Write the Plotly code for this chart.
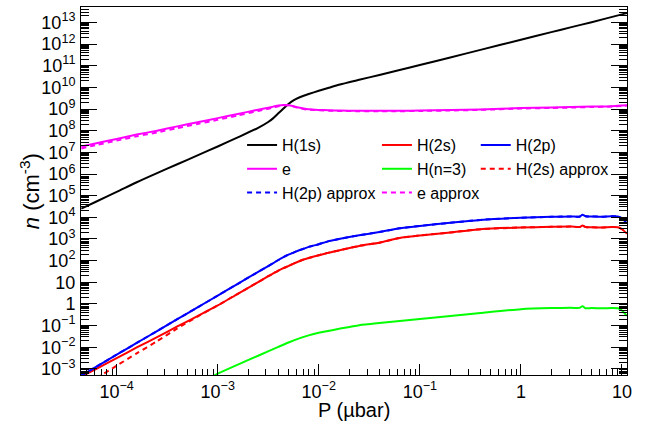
import plotly.graph_objects as go

# ---------------- data ----------------
P_h1s = [4.47e-5, 6.31e-5, 1e-4, 1.58e-4, 2.51e-4, 3.98e-4, 6.31e-4, 1e-3, 1.58e-3, 2.51e-3, 3.16e-3,
         3.55e-3, 3.98e-3, 4.47e-3, 5.01e-3, 5.62e-3, 6.31e-3, 7.08e-3, 7.94e-3, 1e-2, 1.26e-2, 1.58e-2,
         2.51e-2, 3.98e-2, 6.31e-2, 0.1, 0.2, 0.398, 1.0, 2.0, 3.16, 5.01, 10.0, 11.2]
n_h1s = [2.51e4, 5.37e4, 1.48e5, 4.17e5, 1.10e6, 2.82e6, 7.24e6, 1.86e7, 4.90e7, 1.35e8, 2.51e8,
         3.80e8, 6.31e8, 1.05e9, 1.70e9, 2.51e9, 3.31e9, 4.07e9, 4.90e9, 6.92e9, 9.55e9, 1.32e10,
         2.24e10, 3.72e10, 6.31e10, 1.07e11, 2.40e11, 5.37e11, 1.58e12, 3.55e12, 6.03e12, 1.02e13, 2.34e13, 2.69e13]

P_e = [4.47e-5, 6.31e-5, 1e-4, 1.58e-4, 2.51e-4, 3.98e-4, 6.31e-4, 1e-3, 1.58e-3, 2.51e-3, 3.16e-3,
       3.55e-3, 3.98e-3, 4.47e-3, 5.01e-3, 5.62e-3, 6.31e-3, 7.08e-3, 7.94e-3, 1e-2, 1.26e-2, 1.58e-2,
       2.51e-2, 3.98e-2, 6.31e-2, 0.1, 0.2, 0.398, 1.0, 2.0, 3.16, 5.01, 7.94, 10.0, 11.2]
n_e = [1.86e7, 2.63e7, 4.17e7, 6.61e7, 1.0e8, 1.58e8, 2.45e8, 3.80e8, 5.89e8, 9.33e8, 1.15e9,
       1.29e9, 1.45e9, 1.55e9, 1.51e9, 1.35e9, 1.17e9, 1.05e9, 9.77e8, 9.12e8, 8.71e8, 8.51e8,
       8.32e8, 8.32e8, 8.32e8, 8.51e8, 8.91e8, 9.55e8, 1.10e9, 1.17e9, 1.23e9, 1.29e9, 1.35e9, 1.45e9, 1.51e9]
n_e_approx = [1.51e7, 2.19e7, 3.47e7, 5.50e7, 8.32e7, 1.32e8, 2.04e8, 3.16e8, 5.01e8, 8.13e8, 1.02e9,
              1.17e9, 1.35e9, 1.48e9, 1.48e9, 1.32e9, 1.12e9, 1.0e9, 9.33e8, 8.71e8, 8.32e8, 8.13e8,
              7.94e8, 7.94e8, 7.94e8, 8.13e8, 8.51e8, 9.12e8, 1.05e9, 1.12e9, 1.17e9, 1.23e9, 1.29e9, 1.38e9, 1.45e9]

P_n2 = [4.47e-5, 6.31e-5, 1e-4, 1.58e-4, 2.51e-4, 3.98e-4, 6.31e-4, 1e-3, 1.58e-3, 2.51e-3, 3.16e-3,
        3.55e-3, 3.98e-3, 4.47e-3, 5.01e-3, 5.62e-3, 6.31e-3, 7.08e-3, 7.94e-3, 1e-2, 1.26e-2, 1.58e-2,
        2.51e-2, 3.98e-2, 6.31e-2, 0.1, 0.2, 0.398, 1.0, 2.0, 3.16, 3.8, 4.07, 4.37, 5.01, 6.31, 7.94,
        9.12, 10.0, 11.2]
n_2p = [5.01e-4, 1.29e-3, 4.57e-3, 1.58e-2, 5.62e-2, 0.2, 0.69, 2.45, 8.51, 30.2, 56.2,
        77.6, 107, 145, 188, 235, 295, 355, 430, 575, 794, 1000,
        1480, 2090, 3090, 3980, 5620, 7590, 9550, 1.05e4, 1.10e4, 1.07e4, 1.32e4, 1.12e4, 1.10e4, 1.07e4, 1.12e4,
        1.10e4, 8910, 5250]
n_2s = [4.47e-4, 1.02e-3, 3.16e-3, 9.77e-3, 2.95e-2, 9.12e-2, 0.275, 0.851, 2.95, 10.2, 19.1,
        25.7, 34.7, 45.0, 56.2, 72.4, 91.2, 112, 132, 178, 234, 295,
        479, 676, 1120, 1450, 2000, 2820, 3390, 3630, 3720, 3550, 4170, 3550, 3470, 3390, 3550,
        3470, 2820, 1780]
n_2s_approx = [1.41e-4, 3.80e-4, 1.41e-3, 5.25e-3, 1.91e-2, 7.41e-2, 0.263, 0.851, 2.95, 10.2, 19.1,
               25.7, 34.7, 45.0, 56.2, 72.4, 91.2, 112, 132, 178, 234, 295,
               479, 676, 1120, 1450, 2000, 2820, 3390, 3630, 3720, 3550, 4170, 3550, 3470, 3390, 3550,
               3470, 2820, 1780]
n_2p_approx = n_2p

P_n3 = [7.94e-4, 1e-3, 1.58e-3, 2.51e-3, 3.98e-3, 5.01e-3, 6.31e-3, 7.94e-3, 1e-2, 1.58e-2, 2.51e-2,
        3.98e-2, 6.31e-2, 0.1, 0.2, 0.398, 1.0, 2.0, 3.16, 3.8, 4.07, 4.37, 5.01, 6.31, 7.94, 9.12, 10.0, 11.2]
n_n3 = [3.55e-4, 6.03e-4, 1.58e-3, 4.07e-3, 1.05e-2, 1.66e-2, 2.51e-2, 3.55e-2, 4.68e-2, 7.08e-2, 0.105,
        0.132, 0.162, 0.2, 0.275, 0.38, 0.575, 0.646, 0.661, 0.661, 0.794, 0.631, 0.646, 0.631, 0.646, 0.631, 0.501, 0.282]

x_tickvals = [1e-4, 1e-3, 1e-2, 1e-1, 1, 10]
x_ticktext = ["10<sup>\u22124</sup>", "10<sup>\u22123</sup>", "10<sup>\u22122</sup>", "10<sup>\u22121</sup>", "1", "10"]
y_tickvals = [10.0 ** k for k in range(-3, 14)]
y_ticktext = ["10<sup>\u22123</sup>", "10<sup>\u22122</sup>", "10<sup>\u22121</sup>", "1", "10"] + \
             ["10<sup>%d</sup>" % k for k in range(2, 14)]
x_title = "P (\u00b5bar)"
y_title = "<i>n</i> (cm<sup>-3</sup>)"

# ---------------- figure ----------------
FONT = "Liberation Sans, Arial, sans-serif"
DASH = "5px,4px"
fig = go.Figure()

def add(x, y, name, color, dash, legend):
    fig.add_trace(go.Scatter(
        x=x, y=y, name=name, mode="lines", legend=legend,
        line=dict(color=color, width=2, dash=dash, shape="spline", smoothing=0.6),
    ))

add(P_h1s, n_h1s, "H(1s)", "#000000", "solid", "legend")
add(P_e, n_e, "e", "#ff00ff", "solid", "legend")
add(P_n2, n_2s, "H(2s)", "#ff0000", "solid", "legend2")
add(P_n3, n_n3, "H(n=3)", "#00ff00", "solid", "legend2")
add(P_n2, n_2p, "H(2p)", "#0000ff", "solid", "legend3")
add(P_n2, n_2s_approx, "H(2s) approx", "#ff0000", DASH, "legend3")
add(P_n2, n_2p_approx, "H(2p) approx", "#0000ff", DASH, "legend")
add(P_e, n_e_approx, "e approx", "#ff00ff", DASH, "legend2")

minor_x = [m * 10.0 ** d for d in range(-5, 2) for m in range(2, 10)]
minor_y = [m * 10.0 ** d for d in range(-4, 14) for m in range(2, 10)]

fig.update_xaxes(
    type="log", range=[-4.353, 1.05], automargin=False,
    tickmode="array", tickvals=x_tickvals, ticktext=x_ticktext,
    ticks="inside", ticklen=11, tickcolor="black", tickwidth=1,
    showline=True, linecolor="black", linewidth=1, mirror=True,
    showgrid=False, zeroline=False,
    tickfont=dict(family=FONT, size=18, color="black"),
    minor=dict(tickmode="array", tickvals=minor_x, ticks="inside", ticklen=6,
               tickcolor="black", showgrid=False),
)
fig.update_yaxes(
    type="log", range=[-3.28, 13.71], automargin=False,
    tickmode="array", tickvals=y_tickvals, ticktext=y_ticktext,
    ticks="inside", ticklen=16, tickcolor="black", tickwidth=1,
    showline=True, linecolor="black", linewidth=1, mirror="ticks",
    showgrid=False, zeroline=False,
    ticklabelstandoff=1,
    tickfont=dict(family=FONT, size=18, color="black"),
    minor=dict(tickmode="array", tickvals=minor_y, ticks="inside", ticklen=8,
               tickcolor="black", showgrid=False),
)

fig.add_annotation(text=x_title, xref="paper", yref="paper", x=0.5, y=-0.095,
                   xanchor="center", yanchor="middle", showarrow=False,
                   font=dict(family=FONT, size=20, color="black"))
fig.add_annotation(text=y_title, xref="paper", yref="paper", x=-0.093, y=0.5,
                   xanchor="center", yanchor="middle", showarrow=False, textangle=-90,
                   font=dict(family=FONT, size=22, color="black"))

leg_common = dict(yanchor="top", xanchor="left", bgcolor="rgba(0,0,0,0)", borderwidth=0,
                  font=dict(family=FONT, size=16, color="black"), tracegroupgap=0,
                  traceorder="normal")
fig.update_layout(
    width=656, height=428,
    margin=dict(l=81, r=29, t=7, b=53),
    paper_bgcolor="white", plot_bgcolor="white",
    showlegend=True,
    legend=dict(x=0.295, y=0.671, **leg_common),
    legend2=dict(x=0.542, y=0.671, **leg_common),
    legend3=dict(x=0.723, y=0.671, **leg_common),
)

fig.write_html("out.html", config={"displayModeBar": False},
               post_script="document.body.style.margin='0px';")
